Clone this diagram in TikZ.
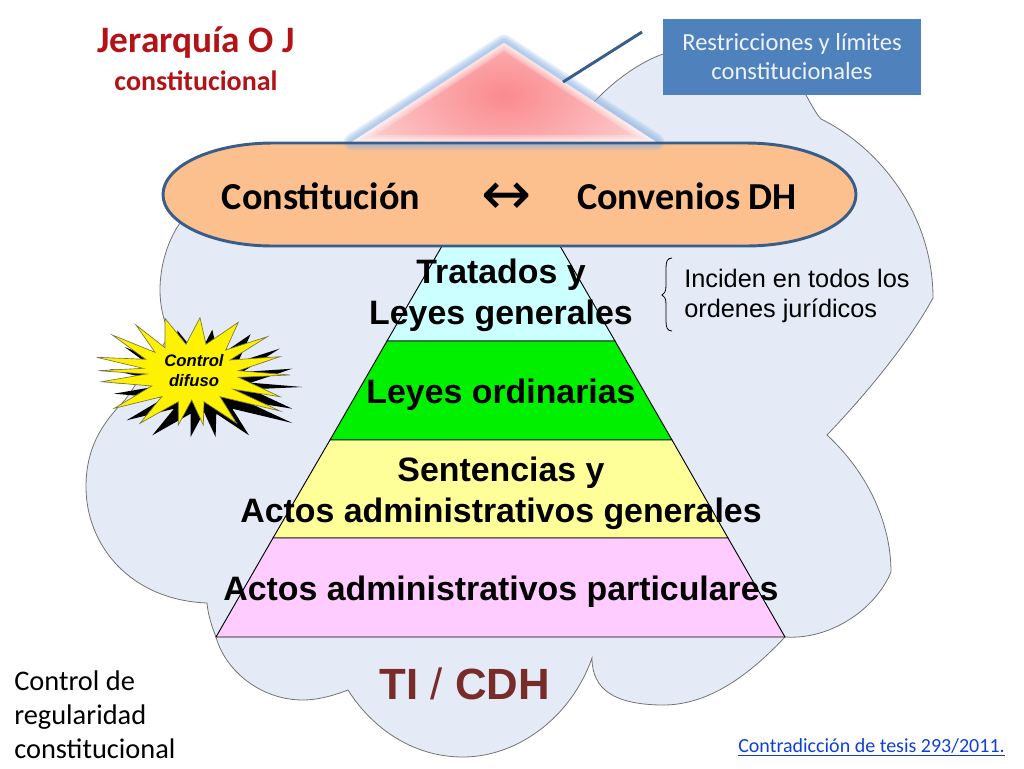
\documentclass[tikz,border=0pt]{standalone}
\usepackage{fontspec}
\setmainfont{Carlito}
\newfontfamily\arialfont{Liberation Sans}
\newfontfamily\arrowfont{DejaVu Sans}
\usetikzlibrary{positioning}
\definecolor{colorCloud}{HTML}{E4EBF6}
\definecolor{colorOval}{HTML}{FBC08E}
\definecolor{colorLine}{HTML}{385D8A}
\definecolor{colorBox}{HTML}{4F81BD}
\definecolor{colorGlow}{HTML}{8DB3E2}
\definecolor{colorPeak}{HTML}{FA8A8E}
\definecolor{colorTitle}{HTML}{B31217}
\definecolor{colorTI}{HTML}{772C2A}
\definecolor{colorLink}{HTML}{0F3FD8}
\definecolor{colorTierA}{HTML}{CCFFFF}
\definecolor{colorTierB}{HTML}{00F000}
\definecolor{colorTierC}{HTML}{FFFF99}
\definecolor{colorTierD}{HTML}{FFCCFF}
\tikzset{
  tier/.style={draw=black, line width=0.7pt},
  tiertext/.style={font=\arialfont\bfseries\fontsize{25.4}{30.75}\selectfont, align=center, inner sep=0pt},
  ovaltext/.style={font=\bfseries\fontsize{28.6}{32}\selectfont, inner sep=0pt},
  plaintext/.style={font=\fontsize{21.3}{25.5}\selectfont, align=left, inner sep=0pt},
}
\newcommand{\burstpath}{(96.7,357.3) -- (143.3,368.3) -- (98.3,370.7) -- (146.7,374) -- (101.7,381.7) -- (151.7,386) -- (114.3,408.3) -- (161.7,396.7) -- (140,423.3) -- (178.3,401.7) -- (178.3,425) -- (191.7,400) -- (203.3,425) -- (204,401.7) -- (236.7,423.3) -- (220,396.7) -- (280,411) -- (233.3,389.3) -- (280,396.7) -- (238.3,377.3) -- (290,375) -- (238.3,370.7) -- (280,356.7) -- (230,360) -- (267.3,336.7) -- (225.7,350) -- (238.3,322.3) -- (206,344.3) -- (200,317.7) -- (186,344.3) -- (165,318.3) -- (165,347.7) -- (136,325) -- (155,352.3) -- (112.3,335) -- (145.7,359.3) -- cycle}
\newcommand{\ovalpath}{(273,143) -- (746,143) arc (-90:90:110 and 51.5) -- (273,246) arc (90:270:110 and 51.5) -- cycle}

\begin{document}
\begin{tikzpicture}[x=0.75pt, y=-0.75pt]
\useasboundingbox (0,0) rectangle (1024,768);
\draw [fill=colorCloud, draw=black!55, line width=0.6pt] (207,603) .. controls (130,600) and (86,545) .. (86,487) .. controls (86,450) and (100,425) .. (125,400) -- (170,335) .. controls (163,320) and (160,305) .. (160,290) .. controls (160,265) and (168,240) .. (180,223) -- (300,180) -- (560,125) -- (596,100) .. controls (615,80) and (640,62) .. (663,54) -- (740,50) -- (806,95) .. controls (811,104) and (815,112) .. (821,119) .. controls (880,148) and (933,215) .. (933,298) .. controls (910,340) and (870,390) .. (827,435) .. controls (865,470) and (891,520) .. (891,572) .. controls (875,610) and (830,640) .. (785,637) .. controls (740,685) and (700,706) .. (660,705) .. controls (615,704) and (592,690) .. (592,658) .. controls (570,720) and (515,757) .. (463,757) .. controls (410,757) and (370,725) .. (348,690) .. controls (330,697) and (315,700) .. (303,700) .. controls (260,700) and (225,670) .. (216,637) .. controls (212,627) and (208,615) .. (207,603) -- cycle;
\draw [tier, fill=colorTierA] (442,246) -- (560,246) -- (615,341) -- (387,341) -- cycle;
\draw [tier, fill=colorTierB] (387,341) -- (615,341) -- (672,440) -- (330,440) -- cycle;
\draw [tier, fill=colorTierC] (330,440) -- (672,440) -- (728,538) -- (273,538) -- cycle;
\draw [tier, fill=colorTierD] (273,538) -- (728,538) -- (785,637) -- (216,637) -- cycle;
\fill [black] [shift={(12.3,12)}] \burstpath;
\draw [fill=yellow, draw=black!60!yellow, line width=0.5pt] \burstpath;
\fill [colorOval] \ovalpath;
\foreach \w in {17,14,11,8,5}
  \draw [colorGlow, opacity=0.2, line width=\w*0.75pt, line join=round] (504,43) -- (656,142) -- (352,142) -- cycle;
\fill [white] (504,43) -- (656,142) -- (352,142) -- cycle;
\begin{scope}
\clip (504,43) -- (656,142) -- (352,142) -- cycle;
\shade [inner color=colorPeak, outer color=white] (504,95) ellipse (270 and 170);
\foreach \w in {14,10,6,3}
  \draw [white, opacity=0.25, line width=\w*0.75pt] (504,43) -- (656,142) -- (352,142) -- cycle;
\end{scope}
\draw [colorLine, line width=2.2pt] \ovalpath;
\coordinate (tieA) at (563,82);
\coordinate (tieB) at (642,32);
\draw [colorLine, line width=2.2pt] (tieA) -- (tieB);
\node [fill=colorBox, minimum width=193.5pt, minimum height=57pt, inner sep=0pt, align=center, text=white!90!colorBox, font=\fontsize{18.4}{21.75}\selectfont] (limits) at (792,57) {Restricciones y límites\\constitucionales};
\node [font=\bfseries\fontsize{28}{30}\selectfont, text=colorTitle, inner sep=0pt] (title) at (196,43) {Jerarquía O J};
\node [font=\bfseries\fontsize{21}{22}\selectfont, text=colorTitle, inner sep=0pt] (subtitle) at (196,81) {constitucional};
\node [ovaltext] (constitucion) at (321,196) {Constitución};
\node [font=\arrowfont\fontsize{45}{45}\selectfont, inner sep=0pt] (both) at (507,199) {↔};
\node [ovaltext] (convenios) at (687,196) {Convenios DH};
\node [tiertext] (tratados) at (501,295) {Tratados y\\Leyes generales};
\node [tiertext] (ordinarias) at (501,395) {Leyes ordinarias};
\node [tiertext] (sentencias) at (501,493) {Sentencias y\\Actos administrativos generales};
\node [tiertext] (particulares) at (501,592) {Actos administrativos particulares};
\node [font=\arialfont\bfseries\fontsize{32.8}{40}\selectfont, text=colorTI, inner sep=0pt] (ticdh) at (465,684) {TI {\mdseries/} CDH};
\node [font=\arialfont\bfseries\itshape\fontsize{12.5}{15}\selectfont, align=center, inner sep=0pt] (difuso) at (194,371) {Control\\difuso};
\node [font=\arialfont\fontsize{19}{22.5}\selectfont, align=left, inner sep=0pt, anchor=west] (inciden) at (684,296) {Inciden en todos los\\ordenes jurídicos};
\coordinate (braceTop) at (672,258);
\coordinate (braceBot) at (672,331);
\draw [black, line width=0.6pt] (braceTop) .. controls (667,258) and (666,262) .. (666,268) -- (666,286) .. controls (666,292) and (664,294) .. (662,295) .. controls (664,296) and (666,298) .. (666,304) -- (666,321) .. controls (666,327) and (667,331) .. (braceBot);
\node [plaintext, anchor=north west] (control) at (14,671) {Control de\\regularidad\\constitucional};
\node [font=\fontsize{15}{18}\selectfont, text=colorLink, inner sep=0pt, anchor=east] (tesis) at (1005,747) {\underline{Contradicción de tesis 293/2011.}};
\end{tikzpicture}
\end{document}
